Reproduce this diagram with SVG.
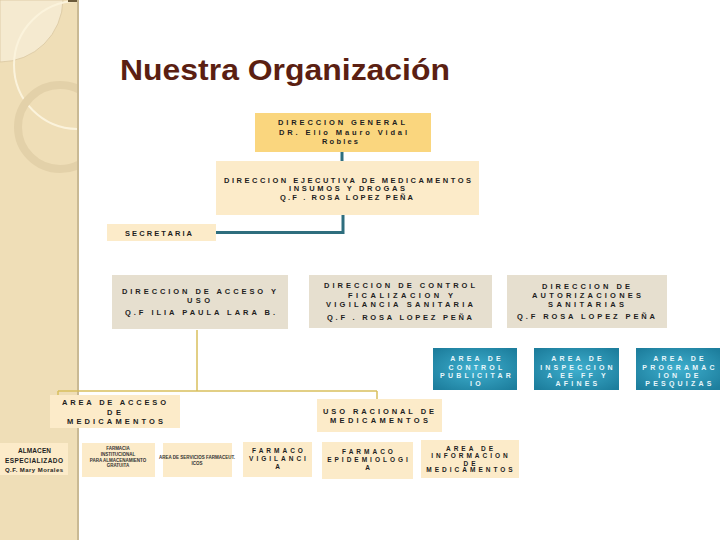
<svg xmlns="http://www.w3.org/2000/svg" width="720" height="540" viewBox="0 0 720 540">
<defs>
<style>
.t{font-family:"Liberation Sans",Arial,sans-serif;font-size:7.5px;font-weight:bold;fill:#1e1e1e}
.w{font-family:"Liberation Sans",Arial,sans-serif;font-size:7px;font-weight:bold;fill:#e8f6fb;text-anchor:middle;letter-spacing:3.2px}
.s{font-family:"Liberation Sans",Arial,sans-serif;font-size:6.5px;font-weight:bold;fill:#1e1e1e}
.xs{font-family:"Liberation Sans",Arial,sans-serif;font-size:4.5px;font-weight:bold;fill:#333;text-anchor:middle}
.m{font-family:"Liberation Sans",Arial,sans-serif;font-size:6.5px;font-weight:bold;fill:#1e1e1e;text-anchor:middle;letter-spacing:3px}
.gold{fill:#fad67e}
.lt{fill:#fcebc9}
.gr{fill:#e6dfcf}
.teal{fill:url(#tg)}
.c1{stroke:#2e6e7e;stroke-width:3;fill:none}
.c2{stroke:#d9bf5c;stroke-width:1.5;fill:none}
</style>
<radialGradient id="tg" cx="50%" cy="50%" r="65%">
<stop offset="0" stop-color="#3fb0cf"/>
<stop offset="1" stop-color="#1d7e9d"/>
</radialGradient>
<clipPath id="sb"><rect x="0" y="0" width="77" height="540"/></clipPath>
</defs>

<g id="sidebar">
<rect x="0" y="0" width="78" height="540" fill="#efdeb7"/>
<g clip-path="url(#sb)">
<path d="M0,0 H63 A63,63 0 0 1 0,62 Z" fill="#f5ead0" stroke="#d9c79f" stroke-width="0.8"/>
<circle cx="78" cy="65" r="64" fill="none" stroke="#fbf3dc" stroke-width="2"/>
<circle cx="60" cy="127" r="42" fill="none" stroke="#e3d1a9" stroke-width="8"/>
</g>
<rect x="77" y="0" width="2" height="540" fill="#c9b994"/>
<rect x="68" y="0" width="9" height="2" fill="#6b5a3a"/>
</g>

<text x="120" y="80" textLength="330" lengthAdjust="spacingAndGlyphs" style="font-family:'Liberation Sans',Arial,sans-serif;font-size:29px;font-weight:bold;fill:#5b1f12">Nuestra Organización</text>

<g id="connectors">
<path class="c1" d="M342,152 V161"/>
<path class="c1" d="M343,215 V232.5 H216"/>
<path class="c2" d="M197,330 V391"/>
<path class="c2" d="M58,391 H377"/>
<path class="c2" d="M58,391 V396"/>
<path class="c2" d="M377,391 V400"/>
</g>

<g id="dg">
<rect class="gold" x="255" y="113" width="176" height="39"/>
<text class="t" x="278" y="125" textLength="127">DIRECCION GENERAL</text>
<text class="t" x="279" y="135" textLength="128">DR. Elio Mauro Vidal</text>
<text class="t" x="322" y="144" textLength="36">Robles</text>
</g>

<g id="de">
<rect class="lt" x="216" y="161" width="263" height="54"/>
<text class="t" x="224" y="183" textLength="247">DIRECCION EJECUTIVA DE MEDICAMENTOS</text>
<text class="t" x="289" y="191" textLength="116">INSUMOS Y DROGAS</text>
<text class="t" x="280" y="200" textLength="133">Q.F . ROSA LOPEZ PEÑA</text>
</g>

<g id="secretaria">
<rect class="lt" x="107" y="224" width="109" height="17"/>
<text class="t" x="125" y="236" textLength="67">SECRETARIA</text>
</g>

<g id="acceso">
<rect class="gr" x="112" y="275" width="176" height="54"/>
<text class="t" x="122" y="294" textLength="154">DIRECCION DE ACCESO Y</text>
<text class="t" x="187" y="303" textLength="23">USO</text>
<text class="t" x="125" y="315" textLength="150">Q.F ILIA PAULA LARA B.</text>
</g>

<g id="control">
<rect class="gr" x="309" y="275" width="183" height="53"/>
<text class="t" x="324" y="288" textLength="151">DIRECCION DE CONTROL</text>
<text class="t" x="348" y="298" textLength="105">FICALIZACION Y</text>
<text class="t" x="326" y="307" textLength="147">VIGILANCIA SANITARIA</text>
<text class="t" x="327" y="320" textLength="145">Q.F . ROSA LOPEZ PEÑA</text>
</g>

<g id="autorizaciones">
<rect class="gr" x="507" y="275" width="160" height="53"/>
<text class="t" x="542" y="289" textLength="88">DIRECCION DE</text>
<text class="t" x="532" y="298" textLength="109">AUTORIZACIONES</text>
<text class="t" x="548" y="307" textLength="76">SANITARIAS</text>
<text class="t" x="517" y="319" textLength="138">Q.F ROSA LOPEZ PEÑA</text>
</g>

<g id="publicitario">
<rect class="teal" x="433" y="348" width="84" height="42"/>
<text class="w" x="477" y="361">AREA DE</text>
<text class="w" x="477" y="370">CONTROL</text>
<text class="w" x="477" y="378">PUBLICITAR</text>
<text class="w" x="477" y="386">IO</text>
</g>

<g id="inspeccion">
<rect class="teal" x="534" y="348" width="85" height="42"/>
<text class="w" x="578" y="361">AREA DE</text>
<text class="w" x="578" y="370">INSPECCION</text>
<text class="w" x="578" y="378">A EE FF Y</text>
<text class="w" x="578" y="386">AFINES</text>
</g>

<g id="programacion">
<rect class="teal" x="636" y="348" width="84" height="42"/>
<text class="w" x="680" y="361">AREA DE</text>
<text class="w" x="680" y="370">PROGRAMAC</text>
<text class="w" x="680" y="378">ION DE</text>
<text class="w" x="680" y="386">PESQUIZAS</text>
</g>

<g id="area-acceso">
<rect class="lt" x="50" y="395" width="130" height="33"/>
<text class="t" x="62" y="405" textLength="104">AREA DE ACCESO</text>
<text class="t" x="107" y="415" textLength="14">DE</text>
<text class="t" x="67" y="424" textLength="96">MEDICAMENTOS</text>
</g>

<g id="uso-racional">
<rect class="lt" x="317" y="399" width="125" height="33"/>
<text class="t" x="323" y="414" textLength="111">USO RACIONAL DE</text>
<text class="t" x="330" y="423" textLength="98">MEDICAMENTOS</text>
</g>

<g id="almacen">
<rect class="lt" x="0" y="443" width="68" height="32"/>
<text class="s" x="18" y="453" textLength="33">ALMACEN</text>
<text class="s" x="5" y="463" textLength="58">ESPECIALIZADO</text>
<text class="s" x="5" y="472" textLength="58" style="font-size:6px">Q.F. Mary Morales</text>
</g>

<g id="farmacia">
<rect class="lt" x="82" y="443" width="73" height="34"/>
<text class="xs" x="118" y="450">FARMACIA</text>
<text class="xs" x="118" y="456">INSTITUCIONAL</text>
<text class="xs" x="118" y="462">PARA ALMACENAMIENTO</text>
<text class="xs" x="118" y="467">GRATUITA</text>
</g>

<g id="area-servicios">
<rect class="lt" x="163" y="443" width="69" height="34"/>
<text class="xs" x="197" y="459">AREA DE SERVICIOS FARMACEUT.</text>
<text class="xs" x="197" y="465">ICOS</text>
</g>

<g id="farmacovigilancia">
<rect class="lt" x="243" y="442" width="69" height="35"/>
<text class="m" x="279" y="453">FARMACO</text>
<text class="m" x="279" y="461">VIGILANCI</text>
<text class="m" x="279" y="469">A</text>
</g>

<g id="farmacoepidemiologia">
<rect class="lt" x="322" y="442" width="91" height="37"/>
<text class="m" x="369" y="454">FARMACO</text>
<text class="m" x="369" y="462">EPIDEMIOLOGI</text>
<text class="m" x="369" y="470">A</text>
</g>

<g id="informacion">
<rect class="lt" x="421" y="440" width="98" height="38"/>
<text class="m" x="471" y="451">AREA DE</text>
<text class="m" x="471" y="458">INFORMACION</text>
<text class="m" x="471" y="466">DE</text>
<text class="m" x="471" y="472">MEDICAMENTOS</text>
</g>
</svg>
